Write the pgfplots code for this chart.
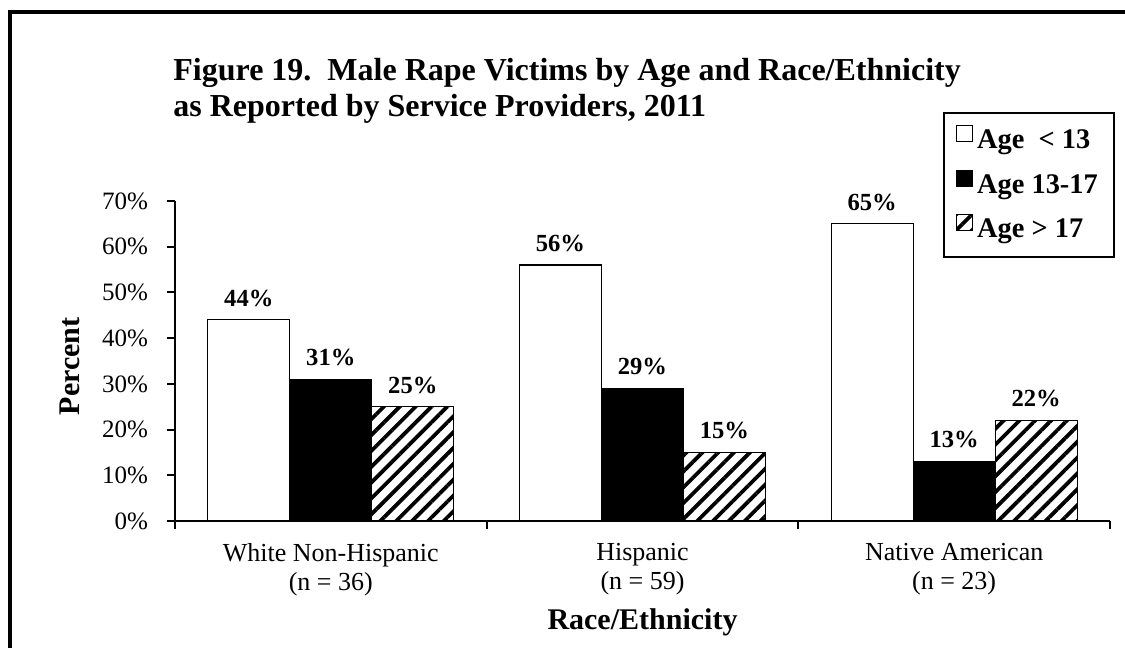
\documentclass[border=0pt]{standalone}
\usepackage{pgfplots}
\pgfplotsset{compat=1.18}
\usepackage{pgfplotstable}
\usetikzlibrary{patterns.meta}
\usepackage{fontspec}
\setmainfont{Liberation Serif}

\pgfplotstableread{
x a b c
0 44 31 25
1 56 29 15
2 65 13 22
}\data

\begin{document}
\begin{tikzpicture}
\useasboundingbox (-87.5pt,-63.5pt) rectangle (475pt,260.5pt);
\draw[line width=2.25pt] (-82.5pt,-80pt) -- (-82.5pt,254.5pt) -- (490pt,254.5pt);
\begin{axis}[
  at={(0pt,0pt)}, anchor=south west,
  scale only axis, width=467.5pt, height=160pt,
  xmin=-0.5, xmax=2.5, ymin=0, ymax=70,
  axis x line*=bottom, axis y line*=left,
  axis line style={line width=1pt},
  /pgf/number format/assume math mode=true,
  ybar=0pt, bar width=41pt,
  ytick={0,10,...,70},
  yticklabel={\pgfmathprintnumber{\tick}\%},
  y tick label style={font=\fontsize{12.5}{14}\selectfont, xshift=-6pt},
  xtick={0,1,2},
  xticklabels={{White Non-Hispanic\\(n = 36)},{Hispanic\\(n = 59)},{Native American\\(n = 23)}},
  x tick label style={align=center, font=\fontsize{13}{14.5}\selectfont, yshift=-3.5pt},
  minor xtick={-0.5,0.5,1.5,2.5},
  tick align=outside,
  major tick length=4pt, minor tick length=4pt,
  tick style={line width=1pt, black},
  every major x tick/.append style={draw=none},
  xlabel={Race/Ethnicity},
  xlabel style={at={(axis description cs:0.5,-0.318)}, anchor=center, font=\fontsize{15}{17}\selectfont\bfseries},
  ylabel={Percent},
  ylabel style={at={(axis description cs:-0.1123,0.483)}, anchor=center, font=\fontsize{15}{17}\selectfont\bfseries},
  nodes near coords={\pgfmathprintnumber{\pgfplotspointmeta}\%},
  every node near coord/.append style={font=\fontsize{12.3}{14}\selectfont\bfseries, yshift=3pt},
  legend style={at={(axis description cs:0.8214,1.2781)}, anchor=north west, draw=black, line width=1pt,
    font=\fontsize{14.2}{16}\selectfont\bfseries, inner xsep=6pt, inner ysep=6pt, row sep=7pt,
    /tikz/every even column/.append style={column sep=2pt}},
  legend cell align=left,
  legend image code/.code={\draw[#1, line width=0.6pt] (0pt,-0.5pt) rectangle (8pt,7.5pt);},
]
\addplot[fill=white, draw=black, line width=0.6pt] table[x=x,y=a]{\data};
\addplot[fill=black, draw=black, line width=0.6pt] table[x=x,y=b]{\data};
\addplot[pattern={Lines[angle=45,distance=5.6pt,line width=1.9pt]}, draw=black, line width=0.6pt] table[x=x,y=c]{\data};
\legend{Age\ \ < 13, Age 13-17, Age > 17}
\end{axis}
\node[anchor=north west, inner sep=0pt, align=left, font=\fontsize{16}{18}\selectfont\bfseries] at (-1pt,231.5pt)
  {Figure 19.\ \ Male Rape Victims by Age and Race/Ethnicity\\as Reported by Service Providers, 2011};
\end{tikzpicture}
\end{document}
